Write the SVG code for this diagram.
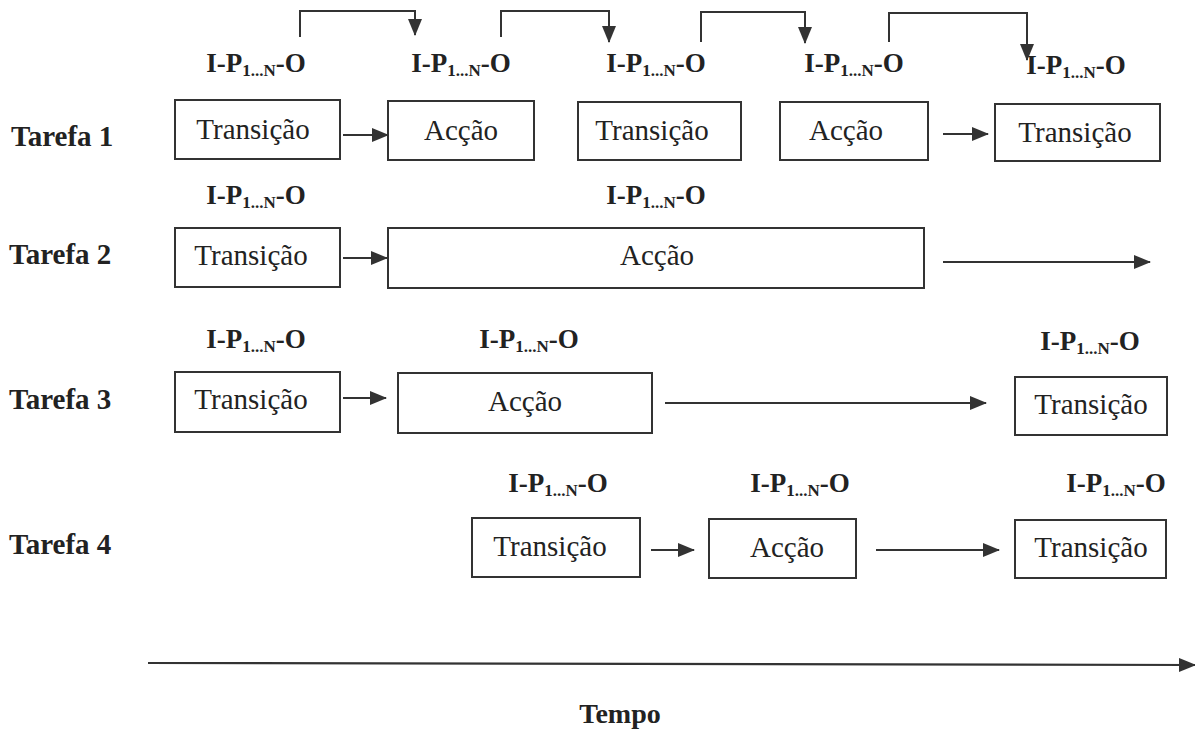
<svg xmlns="http://www.w3.org/2000/svg" width="1195" height="733" viewBox="0 0 1195 733">
<defs>
<marker id="ah" markerUnits="userSpaceOnUse" markerWidth="17" markerHeight="14" refX="16" refY="7" orient="auto">
<path d="M0,0 L17,7 L0,14 Z" fill="#333"/>
</marker>
<style>
.box{fill:#fff;stroke:#333;stroke-width:2}
.bt{font-family:"Liberation Serif",serif;font-size:29px;fill:#222;text-anchor:middle}
.lbl{font-family:"Liberation Serif",serif;font-size:27px;font-weight:bold;fill:#222;text-anchor:middle}
.sub{font-size:17px}
.task{font-family:"Liberation Serif",serif;font-size:29px;font-weight:bold;fill:#222}
.ar{fill:none;stroke:#333;stroke-width:2.2;marker-end:url(#ah)}
.br{fill:none;stroke:#333;stroke-width:2;marker-end:url(#ah)}
</style>
</defs>
<rect width="1195" height="733" fill="#fff"/>

<g id="task-labels">
<text class="task" x="11" y="146">Tarefa 1</text>
<text class="task" x="9" y="264">Tarefa 2</text>
<text class="task" x="9" y="409">Tarefa 3</text>
<text class="task" x="9" y="554">Tarefa 4</text>
</g>

<g id="ipo-labels">
<text class="lbl" x="256" y="72">I-P<tspan class="sub" dy="4">1...N</tspan><tspan dy="-4">-O</tspan></text>
<text class="lbl" x="461" y="72">I-P<tspan class="sub" dy="4">1...N</tspan><tspan dy="-4">-O</tspan></text>
<text class="lbl" x="656" y="72">I-P<tspan class="sub" dy="4">1...N</tspan><tspan dy="-4">-O</tspan></text>
<text class="lbl" x="854" y="72">I-P<tspan class="sub" dy="4">1...N</tspan><tspan dy="-4">-O</tspan></text>
<text class="lbl" x="1076" y="74">I-P<tspan class="sub" dy="4">1...N</tspan><tspan dy="-4">-O</tspan></text>

<text class="lbl" x="256" y="204">I-P<tspan class="sub" dy="4">1...N</tspan><tspan dy="-4">-O</tspan></text>
<text class="lbl" x="656" y="204">I-P<tspan class="sub" dy="4">1...N</tspan><tspan dy="-4">-O</tspan></text>

<text class="lbl" x="256" y="348">I-P<tspan class="sub" dy="4">1...N</tspan><tspan dy="-4">-O</tspan></text>
<text class="lbl" x="529" y="348">I-P<tspan class="sub" dy="4">1...N</tspan><tspan dy="-4">-O</tspan></text>
<text class="lbl" x="1090" y="350">I-P<tspan class="sub" dy="4">1...N</tspan><tspan dy="-4">-O</tspan></text>

<text class="lbl" x="558" y="492">I-P<tspan class="sub" dy="4">1...N</tspan><tspan dy="-4">-O</tspan></text>
<text class="lbl" x="800" y="492">I-P<tspan class="sub" dy="4">1...N</tspan><tspan dy="-4">-O</tspan></text>
<text class="lbl" x="1116" y="492">I-P<tspan class="sub" dy="4">1...N</tspan><tspan dy="-4">-O</tspan></text>
</g>

<g id="t1-n1"><rect class="box" x="175" y="100" width="165" height="59"/><text class="bt" x="253" y="139">Transição</text></g>
<g id="t1-n2"><rect class="box" x="388" y="101" width="146" height="59"/><text class="bt" x="461" y="140">Acção</text></g>
<g id="t1-n3"><rect class="box" x="578" y="102" width="163" height="58"/><text class="bt" x="652" y="140">Transição</text></g>
<g id="t1-n4"><rect class="box" x="780" y="102" width="148" height="58"/><text class="bt" x="846" y="140">Acção</text></g>
<g id="t1-n5"><rect class="box" x="995" y="104" width="165" height="57"/><text class="bt" x="1075" y="142">Transição</text></g>

<g id="t2-n1"><rect class="box" x="175" y="228" width="165" height="59"/><text class="bt" x="251" y="265">Transição</text></g>
<g id="t2-n2"><rect class="box" x="388" y="228" width="536" height="60"/><text class="bt" x="657" y="265">Acção</text></g>

<g id="t3-n1"><rect class="box" x="175" y="372" width="165" height="60"/><text class="bt" x="251" y="409">Transição</text></g>
<g id="t3-n2"><rect class="box" x="398" y="373" width="254" height="60"/><text class="bt" x="525" y="411">Acção</text></g>
<g id="t3-n3"><rect class="box" x="1015" y="377" width="152" height="58"/><text class="bt" x="1091" y="414">Transição</text></g>

<g id="t4-n1"><rect class="box" x="472" y="518" width="168" height="59"/><text class="bt" x="550" y="556">Transição</text></g>
<g id="t4-n2"><rect class="box" x="709" y="519" width="147" height="59"/><text class="bt" x="787" y="557">Acção</text></g>
<g id="t4-n3"><rect class="box" x="1015" y="520" width="151" height="58"/><text class="bt" x="1091" y="557">Transição</text></g>

<g id="connectors">
<path class="br" d="M300,37 V11 H415 V35"/>
<path class="br" d="M501,37 V11 H609 V42"/>
<path class="br" d="M701,42 V12 H805 V43"/>
<path class="br" d="M889,42 V13 H1027 V60"/>

<line class="ar" x1="343" y1="135" x2="388" y2="135"/>
<line class="ar" x1="943" y1="134" x2="988" y2="134"/>

<line class="ar" x1="343" y1="258" x2="387" y2="258"/>
<line class="ar" x1="943" y1="262" x2="1150" y2="262"/>

<line class="ar" x1="343" y1="398" x2="386" y2="398"/>
<line class="ar" x1="665" y1="403" x2="986" y2="403"/>

<line class="ar" x1="651" y1="550" x2="694" y2="550"/>
<line class="ar" x1="876" y1="550" x2="999" y2="550"/>

<line class="ar" x1="148" y1="663" x2="1195" y2="665"/>
</g>

<g id="time-label">
<text class="task" x="620" y="723" text-anchor="middle" style="font-size:28px">Tempo</text>
</g>
</svg>
